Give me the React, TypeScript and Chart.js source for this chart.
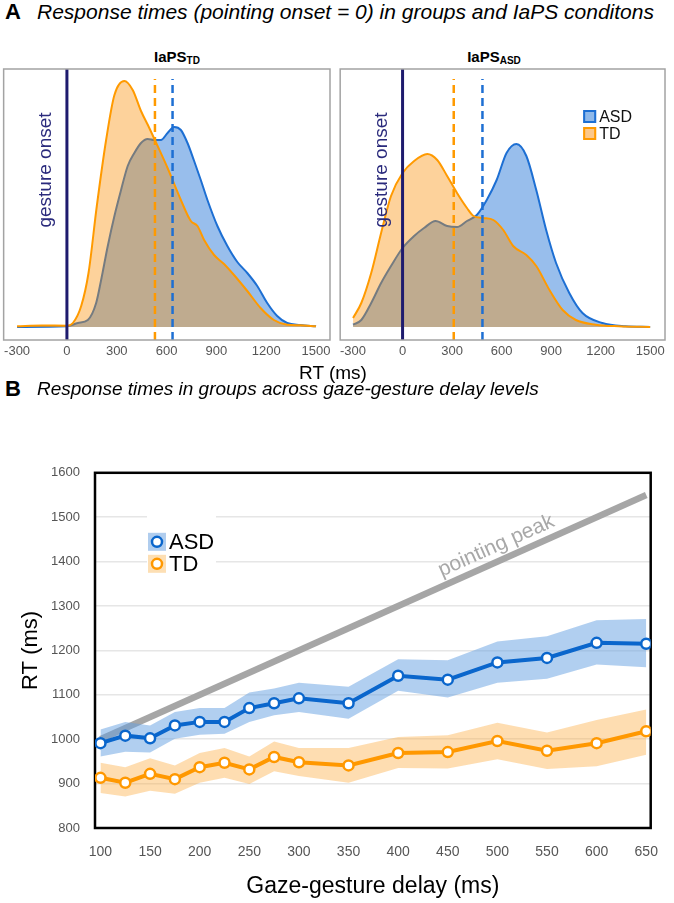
import React, { useEffect, useRef } from "react";
import { Chart, registerables } from "chart.js";

Chart.register(...registerables);

const FONT = "'Liberation Sans', Arial, Helvetica, sans-serif";

// ---------- Panel A: RT density (pointing onset = 0) ----------
const rtTicks = [-300, 0, 300, 600, 900, 1200, 1500];

// IaPS_TD condition
const tdTdX = [-300, -150, 0, 36, 86, 130, 180, 236, 286, 346, 396, 446, 496, 546, 606, 686, 746, 786, 826, 886, 946, 1006, 1086, 1166, 1246, 1326, 1406, 1500];
const tdTdY = [0.7, 1.5, 1.3, 4, 21, 54, 121, 187, 232, 246, 237, 216, 199, 181, 159, 127, 106, 101, 87, 72, 63, 52, 36, 19, 7, 2.3, 1.7, 0.7];
const tdAsdX = [-300, 0, 66, 126, 176, 206, 246, 286, 326, 366, 406, 446, 486, 526, 566, 606, 646, 686, 726, 766, 806, 846, 906, 966, 1026, 1086, 1146, 1206, 1266, 1326, 1406, 1500];
const tdAsdY = [0, 0.7, 4, 7, 24, 47, 81, 111, 137, 161, 174, 184, 188, 187, 187, 194, 200, 197, 184, 166, 147, 127, 101, 81, 65, 54, 41, 24, 11, 4, 2, 0.7];
const tdMeanTD = 530;
const tdMeanASD = 636;

// IaPS_ASD condition
const asdTdX = [-300, -250, -190, -130, -70, 0, 70, 150, 210, 270, 330, 390, 430, 490, 550, 610, 670, 750, 810, 890, 970, 1050, 1170, 1310, 1500];
const asdTdY = [9, 24, 54, 94, 131, 154, 166, 173, 167, 151, 134, 119, 111, 109, 107, 97, 81, 72, 61, 37, 17, 7, 2.3, 0.7, 0];
const asdAsdX = [-300, -250, -190, -130, -70, 0, 70, 130, 200, 270, 330, 390, 450, 510, 570, 630, 690, 750, 810, 870, 930, 1010, 1090, 1210, 1350, 1500];
const asdAsdY = [2.3, 7, 24, 44, 61, 79, 91, 99, 106, 101, 100, 106, 112, 127, 147, 174, 183, 171, 137, 97, 64, 34, 14, 4, 0.7, 0];
const asdMeanTD = 310;
const asdMeanASD = 484;

// ---------- Panel B: RT across gaze-gesture delay ----------
const delays = [100, 125, 150, 175, 200, 225, 250, 275, 300, 350, 400, 450, 500, 550, 600, 650];
const asdMean = [991, 1008, 1002, 1031, 1039, 1039, 1070, 1081, 1092, 1081, 1143, 1134, 1173, 1183, 1217, 1215];
const asdUpper = [1022, 1039, 1031, 1061, 1070, 1070, 1105, 1114, 1127, 1118, 1180, 1178, 1220, 1232, 1268, 1271];
const asdLower = [961, 972, 970, 1001, 1010, 1012, 1039, 1054, 1061, 1046, 1109, 1094, 1127, 1136, 1168, 1162];
const tdMean = [913, 902, 922, 910, 937, 947, 932, 960, 948, 941, 969, 971, 996, 974, 991, 1018];
const tdUpper = [947, 937, 957, 941, 969, 980, 961, 995, 980, 980, 1005, 1009, 1037, 1015, 1043, 1067];
const tdLower = [879, 871, 884, 877, 902, 913, 899, 928, 917, 902, 935, 934, 955, 933, 939, 965];
const delayTicks = [100, 150, 200, 250, 300, 350, 400, 450, 500, 550, 600, 650];
const rtAxisTicks = [800, 900, 1000, 1100, 1200, 1300, 1400, 1500, 1600];
const peakDelays = [100, 650];
const peakRT = [1000, 1550];

const pts = (xs: number[], ys: number[]) => xs.map((x, i) => ({ x, y: ys[i] }));

const A_BLUE = "#1d6fd3";
const A_ORANGE = "#ff9a00";
const B_BLUE = "#0a66cc";
const B_ORANGE = "#ff9800";

function densityConfig(p: any) {
  const yMin = -13;
  const yMax = 258;
  const dashTop = 248;
  const deco = {
    id: "densityDeco",
    afterDraw(chart: any) {
      const { ctx, chartArea: ca, scales } = chart;
      ctx.save();
      ctx.strokeStyle = "#a3a3a3";
      ctx.lineWidth = 1.5;
      ctx.strokeRect(ca.left, ca.top, ca.right - ca.left, ca.bottom - ca.top);
      const x0 = scales.x.getPixelForValue(0);
      ctx.save();
      ctx.translate(x0 - 21, ca.top + 101);
      ctx.rotate(-Math.PI / 2);
      ctx.fillStyle = "#2a2a7c";
      ctx.font = `19px ${FONT}`;
      ctx.textAlign = "center";
      ctx.textBaseline = "middle";
      ctx.fillText("gesture onset", 0, 0);
      ctx.restore();
      if (p.legend) {
        const items = [
          { t: "ASD", fill: "#8fb9ea", stroke: A_BLUE },
          { t: "TD", fill: "#fcc88a", stroke: A_ORANGE },
        ];
        ctx.font = `16px ${FONT}`;
        ctx.textBaseline = "middle";
        ctx.textAlign = "left";
        items.forEach((it, i) => {
          const lx = ca.left + 243;
          const ly = ca.top + 41 + i * 17;
          ctx.fillStyle = it.fill;
          ctx.fillRect(lx, ly, 13, 13);
          ctx.strokeStyle = it.stroke;
          ctx.lineWidth = 2;
          ctx.strokeRect(lx + 1, ly + 1, 11, 11);
          ctx.fillStyle = "#111";
          ctx.fillText(it.t, lx + 16, ly + 7.5);
        });
      }
      ctx.restore();
    },
  };
  return {
    type: "line",
    data: {
      datasets: [
        {
          label: "ASD",
          data: pts(p.asdX, p.asdY),
          order: 5,
          fill: "origin",
          backgroundColor: "rgba(40,120,215,0.48)",
          borderColor: A_BLUE,
          borderWidth: 2,
          pointRadius: 0,
          cubicInterpolationMode: "monotone",
        },
        {
          label: "TD",
          data: pts(p.tdX, p.tdY),
          order: 4,
          fill: "origin",
          backgroundColor: "rgba(250,142,5,0.4)",
          borderColor: A_ORANGE,
          borderWidth: 2,
          pointRadius: 0,
          cubicInterpolationMode: "monotone",
        },
        {
          label: "TD mean",
          data: [{ x: p.meanTD, y: yMin }, { x: p.meanTD, y: dashTop }],
          order: 3,
          borderColor: A_ORANGE,
          borderDash: [8, 5],
          borderWidth: 2.5,
          pointRadius: 0,
          fill: false,
        },
        {
          label: "ASD mean",
          data: [{ x: p.meanASD, y: yMin }, { x: p.meanASD, y: dashTop }],
          order: 2,
          borderColor: A_BLUE,
          borderDash: [8, 5],
          borderWidth: 2.5,
          pointRadius: 0,
          fill: false,
        },
        {
          label: "gesture onset",
          data: [{ x: 0, y: yMin }, { x: 0, y: yMax }],
          order: 1,
          borderColor: "#1e1b6e",
          borderWidth: 3,
          pointRadius: 0,
          fill: false,
        },
      ],
    },
    options: {
      animation: false,
      responsive: false,
      layout: { padding: { left: p.padL, right: p.padR, top: 29, bottom: 0 } },
      plugins: { legend: { display: false }, tooltip: { enabled: false } },
      scales: {
        x: {
          type: "linear",
          min: p.xMin,
          max: p.xMax,
          afterBuildTicks: (s: any) => {
            s.ticks = rtTicks.map((v) => ({ value: v }));
          },
          afterFit: (s: any) => {
            s.height = 30;
          },
          grid: { display: false, drawTicks: false },
          border: { display: false },
          ticks: {
            color: "#555",
            font: { family: FONT, size: 13 },
            padding: 4,
            maxRotation: 0,
            autoSkip: false,
            callback: (v: any) => String(v),
          },
        },
        y: { display: false, min: yMin, max: yMax },
      },
    },
    plugins: [deco],
  };
}

function delayConfig() {
  const deco = {
    id: "delayDeco",
    beforeDatasetsDraw(chart: any) {
      const { ctx, chartArea: ca } = chart;
      ctx.save();
      ctx.strokeStyle = "#000";
      ctx.lineWidth = 2.5;
      ctx.strokeRect(ca.left, ca.top, ca.right - ca.left, ca.bottom - ca.top);
      // legend
      ctx.fillStyle = "#fff";
      ctx.fillRect(ca.left + 52, ca.top + 39, 69, 87);
      const items = [
        { t: "ASD", sq: "#b0cdee", c: B_BLUE },
        { t: "TD", sq: "#fddfb4", c: B_ORANGE },
      ];
      ctx.font = `22px ${FONT}`;
      ctx.textBaseline = "middle";
      ctx.textAlign = "left";
      items.forEach((it, i) => {
        const lx = ca.left + 53;
        const ly = ca.top + 60 + i * 22;
        ctx.fillStyle = it.sq;
        ctx.fillRect(lx, ly, 18, 18);
        ctx.beginPath();
        ctx.arc(lx + 9, ly + 9, 5, 0, Math.PI * 2);
        ctx.fillStyle = "#fff";
        ctx.fill();
        ctx.strokeStyle = it.c;
        ctx.lineWidth = 2.5;
        ctx.stroke();
        ctx.fillStyle = "#000";
        ctx.fillText(it.t, lx + 21, ly + 10);
      });
      ctx.restore();
    },
    afterDraw(chart: any) {
      const { ctx, scales } = chart;
      const xs = scales.x;
      const ys = scales.y;
      const x0 = xs.getPixelForValue(peakDelays[0]);
      const y0 = ys.getPixelForValue(peakRT[0]);
      const x1 = xs.getPixelForValue(peakDelays[1]);
      const y1 = ys.getPixelForValue(peakRT[1]);
      const ang = Math.atan2(y1 - y0, x1 - x0);
      const d = 505;
      const rt = peakRT[0] + ((d - peakDelays[0]) * (peakRT[1] - peakRT[0])) / (peakDelays[1] - peakDelays[0]);
      ctx.save();
      ctx.translate(xs.getPixelForValue(d), ys.getPixelForValue(rt));
      ctx.rotate(ang);
      ctx.fillStyle = "#a8a8a8";
      ctx.font = `21px ${FONT}`;
      ctx.textAlign = "center";
      ctx.textBaseline = "alphabetic";
      ctx.fillText("pointing peak", 0, -9);
      ctx.restore();
    },
  };
  const band = (up: number[], lo: number[], color: string, order: number, name: string) => [
    {
      label: name + " upper",
      data: pts(delays, up),
      order,
      fill: "+1",
      backgroundColor: color,
      borderWidth: 0,
      pointRadius: 0,
    },
    {
      label: name + " lower",
      data: pts(delays, lo),
      order,
      fill: false,
      borderWidth: 0,
      pointRadius: 0,
    },
  ];
  const line = (vals: number[], color: string, order: number, name: string) => ({
    label: name,
    data: pts(delays, vals),
    order,
    fill: false,
    borderColor: color,
    borderWidth: 4,
    pointRadius: 5,
    pointBorderWidth: 2.5,
    pointBackgroundColor: "#fff",
    pointBorderColor: color,
  });
  return {
    type: "line",
    data: {
      datasets: [
        {
          label: "pointing peak",
          data: pts(peakDelays, peakRT),
          order: 10,
          borderColor: "#a6a6a6",
          borderWidth: 6.5,
          pointRadius: 0,
          fill: false,
        },
        ...band(asdUpper, asdLower, "rgba(100,160,225,0.5)", 9, "ASD"),
        ...band(tdUpper, tdLower, "rgba(252,170,60,0.4)", 8, "TD"),
        line(asdMean, B_BLUE, 2, "ASD"),
        line(tdMean, B_ORANGE, 1, "TD"),
      ],
    },
    options: {
      animation: false,
      responsive: false,
      layout: { padding: { left: 0, right: 10, top: 16, bottom: 0 } },
      plugins: { legend: { display: false }, tooltip: { enabled: false } },
      scales: {
        x: {
          type: "linear",
          min: 94.5,
          max: 654.5,
          afterBuildTicks: (s: any) => {
            s.ticks = delayTicks.map((v) => ({ value: v }));
          },
          afterFit: (s: any) => {
            s.height = 75;
          },
          grid: { display: false, drawTicks: false },
          border: { display: false },
          ticks: {
            color: "#555",
            font: { family: FONT, size: 14 },
            padding: 16,
            maxRotation: 0,
            autoSkip: false,
            callback: (v: any) => String(v),
          },
          title: {
            display: true,
            text: "Gaze-gesture delay (ms)",
            color: "#000",
            font: { family: FONT, size: 23 },
            padding: { top: 0, bottom: 3 },
          },
        },
        y: {
          min: 800,
          max: 1600,
          afterBuildTicks: (s: any) => {
            s.ticks = rtAxisTicks.map((v) => ({ value: v }));
          },
          afterFit: (s: any) => {
            s.width = 95;
          },
          grid: { color: "#e6e6e6", lineWidth: 1.5, drawTicks: false },
          border: { display: false },
          ticks: {
            color: "#555",
            font: { family: FONT, size: 13 },
            padding: 15,
            callback: (v: any) => String(v),
          },
          title: {
            display: true,
            text: "RT (ms)",
            color: "#000",
            font: { family: FONT, size: 22 },
            padding: { top: 18, bottom: 0 },
          },
        },
      },
    },
    plugins: [deco],
  };
}

function ChartCanvas({ left, top, width, height, make }: any) {
  const ref = useRef<HTMLCanvasElement>(null);
  useEffect(() => {
    const chart = new Chart(ref.current as HTMLCanvasElement, make());
    return () => chart.destroy();
  }, []);
  return (
    <canvas
      ref={ref}
      width={width}
      height={height}
      style={{ position: "absolute", left, top, width, height }}
    />
  );
}

const txt = (extra: React.CSSProperties): React.CSSProperties => ({
  position: "absolute",
  fontFamily: FONT,
  whiteSpace: "nowrap",
  color: "#000",
  ...extra,
});

export default function App() {
  return (
    <div style={{ position: "absolute", left: 0, top: 0, width: 674, height: 903, background: "#fff", overflow: "hidden" }}>
      <div style={txt({ left: 5, top: 1, fontSize: 22, fontWeight: "bold", lineHeight: "22px" })}>A</div>
      <div style={txt({ left: 37, top: 1, fontSize: 21, fontStyle: "italic", lineHeight: "22px" })}>
        Response times (pointing onset = 0) in groups and IaPS conditons
      </div>
      <div style={txt({ left: 117, top: 48, width: 120, textAlign: "center", fontSize: 15, fontWeight: "bold", lineHeight: "18px" })}>
        IaPS<span style={{ fontSize: 10, position: "relative", top: 2 }}>TD</span>
      </div>
      <div style={txt({ left: 434, top: 48, width: 120, textAlign: "center", fontSize: 15, fontWeight: "bold", lineHeight: "18px" })}>
        IaPS<span style={{ fontSize: 10, position: "relative", top: 2 }}>ASD</span>
      </div>
      <ChartCanvas
        left={0}
        top={40}
        width={336}
        height={330}
        make={() =>
          densityConfig({
            tdX: tdTdX, tdY: tdTdY, asdX: tdAsdX, asdY: tdAsdY,
            meanTD: tdMeanTD, meanASD: tdMeanASD,
            xMin: -381, xMax: 1584, padL: 2, padR: 6, legend: false,
          })
        }
      />
      <ChartCanvas
        left={336}
        top={40}
        width={338}
        height={330}
        make={() =>
          densityConfig({
            tdX: asdTdX, tdY: asdTdY, asdX: asdAsdX, asdY: asdAsdY,
            meanTD: asdMeanTD, meanASD: asdMeanASD,
            xMin: -378, xMax: 1590, padL: 1, padR: 9, legend: true,
          })
        }
      />
      <div style={txt({ left: 273, top: 362, width: 120, textAlign: "center", fontSize: 19, lineHeight: "22px" })}>RT (ms)</div>
      <div style={txt({ left: 5, top: 378, fontSize: 22, fontWeight: "bold", lineHeight: "22px" })}>B</div>
      <div style={txt({ left: 37, top: 379, fontSize: 19, fontStyle: "italic", lineHeight: "20px" })}>
        Response times in groups across gaze-gesture delay levels
      </div>
      <ChartCanvas left={0} top={450} width={674} height={453} make={delayConfig} />
    </div>
  );
}
